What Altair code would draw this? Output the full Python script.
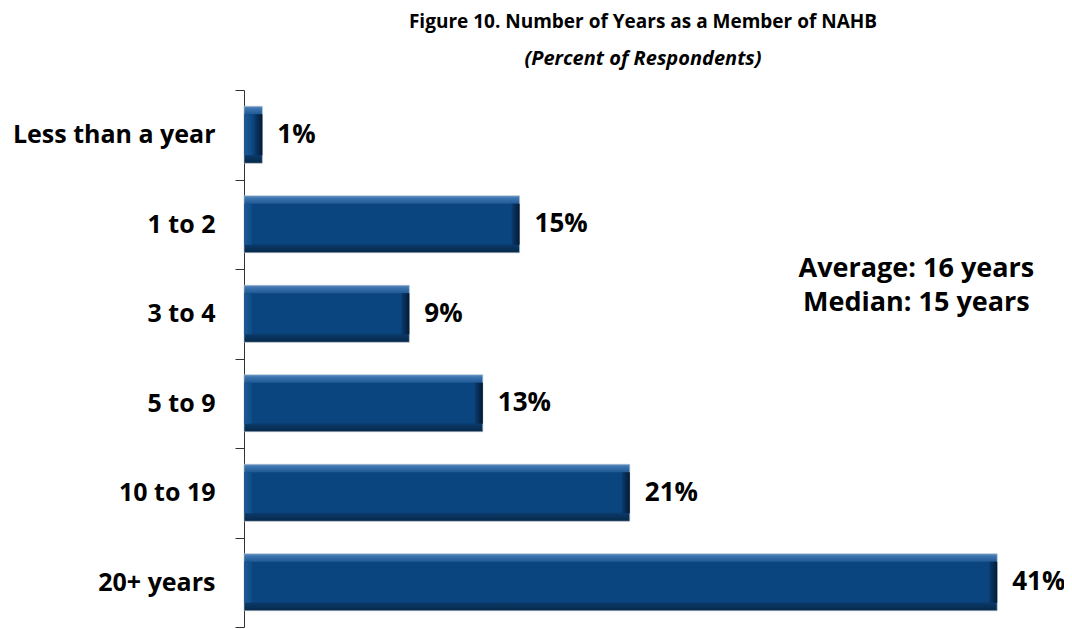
import altair as alt
import pandas as pd

categories = ["Less than a year", "1 to 2", "3 to 4", "5 to 9", "10 to 19", "20+ years"]
values = [1, 15, 9, 13, 21, 41]
value_labels = ["1%", "15%", "9%", "13%", "21%", "41%"]
annotation_lines = ["Average: 16 years", "Median: 15 years"]
annotation_x = 36.6

df = pd.DataFrame({"category": categories, "value": values, "label": value_labels})

FONT = "Open Sans"
y_enc = alt.Y(
    "category:N",
    sort=categories,
    scale=alt.Scale(paddingInner=0, paddingOuter=0),
    axis=alt.Axis(
        title=None,
        tickBand="extent",
        tickSize=9,
        tickColor="#333333",
        domainColor="#333333",
        labelFont=FONT,
        labelFontSize=25,
        labelFontWeight="bold",
        labelColor="black",
        labelPadding=20,
        labelLimit=400,
    ),
)
y_plain = alt.Y("category:N", sort=categories)
x_scale = alt.Scale(domain=[0, 44.2], nice=False, zero=True)

base = alt.Chart(df).transform_calculate(start="0")

body = base.mark_bar(
    height=57,
    color=alt.Gradient(
        gradient="linear",
        x1=0, x2=0, y1=0, y2=1,
        stops=[
            alt.GradientStop(offset=0.0, color="#5b8cc0"),
            alt.GradientStop(offset=0.05, color="#3a72ad"),
            alt.GradientStop(offset=0.13, color="#235c97"),
            alt.GradientStop(offset=0.15, color="#0b4580"),
            alt.GradientStop(offset=0.84, color="#0b4580"),
            alt.GradientStop(offset=0.87, color="#0a3867"),
            alt.GradientStop(offset=1.0, color="#072848"),
        ],
    ),
    stroke="#b8c2cc",
    strokeWidth=0.6,
).encode(
    x=alt.X("value:Q", scale=x_scale, axis=None),
    x2=alt.X2("start:Q"),
    y=y_enc,
)

left_bevel = base.mark_bar(
    height=41,
    x2Offset=8,
    color=alt.Gradient(
        gradient="linear",
        x1=0, x2=1, y1=0, y2=0,
        stops=[
            alt.GradientStop(offset=0.0, color="#1d5a96"),
            alt.GradientStop(offset=1.0, color="#0f4b86"),
        ],
    ),
).encode(
    x=alt.X("start:Q", scale=x_scale, axis=None),
    x2=alt.X2("start:Q"),
    y=y_plain,
)

right_bevel = base.mark_bar(
    height=41,
    xOffset=-8,
    color=alt.Gradient(
        gradient="linear",
        x1=0, x2=1, y1=0, y2=0,
        stops=[
            alt.GradientStop(offset=0.0, color="#0a3c70"),
            alt.GradientStop(offset=1.0, color="#041a33"),
        ],
    ),
).encode(
    x=alt.X("value:Q", scale=x_scale, axis=None),
    x2=alt.X2("value:Q"),
    y=y_plain,
)

labels = base.mark_text(
    align="left", baseline="middle", dx=15, font=FONT, fontSize=26,
    fontWeight="bold", color="black",
).encode(
    x=alt.X("value:Q", scale=x_scale, axis=None),
    y=y_plain,
    text="label:N",
)

ann_df = pd.DataFrame({"x": [annotation_x], "text": ["\n".join(annotation_lines)]})
annotation = alt.Chart(ann_df).mark_text(
    align="center", baseline="middle", font=FONT, fontSize=27,
    fontWeight="bold", color="black", lineHeight=34, lineBreak="\n",
).encode(
    x=alt.X("x:Q", scale=x_scale, axis=None),
    y=alt.value(179),
    text="text:N",
)

chart = alt.layer(body, left_bevel, right_bevel, labels, annotation).properties(
    width=812,
    height=537,
    autosize=alt.AutoSizeParams(type="none"),
    padding={"left": 236, "top": 82, "right": 8, "bottom": 2},
    title=alt.TitleParams(
        text="Figure 10. Number of Years as a Member of NAHB",
        subtitle="(Percent of Respondents)",
        font=FONT,
        subtitleFont=FONT,
        fontSize=19,
        subtitleFontSize=20,
        fontWeight="bold",
        subtitleFontWeight="bold",
        subtitleFontStyle="italic",
        color="black",
        subtitleColor="black",
        anchor="middle",
        frame="group",
        dx=-7,
        offset=9,
        subtitlePadding=17,
    ),
).configure_view(stroke=None)

chart.save("out.html", embed_options={"renderer": "svg", "actions": False})
